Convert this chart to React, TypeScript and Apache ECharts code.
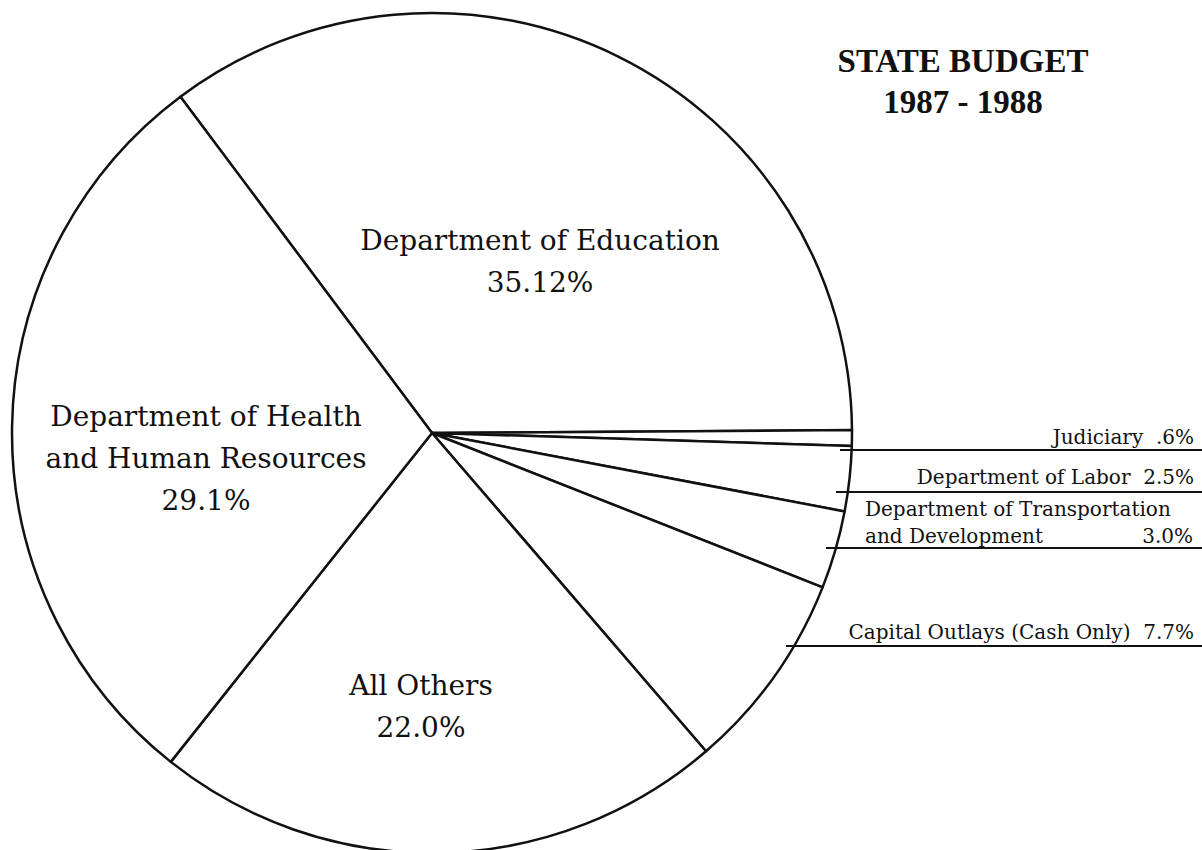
import React, { useEffect, useRef } from "react";
import * as echarts from "echarts";

const titleLines = ["STATE BUDGET", "1987 - 1988"];
const sliceNames = [
  "Department of Education",
  "Judiciary",
  "Department of Labor",
  "Department of Transportation and Development",
  "Capital Outlays (Cash Only)",
  "All Others",
  "Department of Health and Human Resources",
];
const sliceValues = [35.12, 0.6, 2.5, 3.0, 7.7, 22.0, 29.1];
const sliceLabels = ["35.12%", ".6%", "2.5%", "3.0%", "7.7%", "22.0%", "29.1%"];

// label anchor positions (layout only)
const labelPos: Record<number, { x: number; y: number; align: string; vAlign: string }> = {
  0: { x: 540, y: 261, align: "center", vAlign: "middle" },
  1: { x: 1194, y: 450, align: "right", vAlign: "bottom" },
  2: { x: 1194, y: 490, align: "right", vAlign: "bottom" },
  3: { x: 865, y: 549, align: "left", vAlign: "bottom" },
  4: { x: 1194, y: 645, align: "right", vAlign: "bottom" },
  5: { x: 421, y: 706, align: "center", vAlign: "middle" },
  6: { x: 206, y: 458, align: "center", vAlign: "middle" },
};
const ruleY = [450, 492, 548, 646];
const ruleX = [840, 836, 826, 786];

const SERIF = "'DejaVu Serif', serif";
const TITLE_FONT = "'Liberation Serif', serif";

export default function App() {
  const ref = useRef<HTMLDivElement>(null);
  useEffect(() => {
    document.body.style.margin = "0";
    const chart = echarts.init(ref.current!, null, { renderer: "svg" });
    const big = new Set([0, 5, 6]);
    const small = { fontSize: 20, lineHeight: 27, fontFamily: SERIF, color: "#111" };
    const data = sliceValues.map((v, i) => {
      let formatter: string;
      if (i === 0) formatter = `${sliceNames[0]}\n${sliceLabels[0]}`;
      else if (i === 5) formatter = `${sliceNames[5]}\n${sliceLabels[5]}`;
      else if (i === 6) formatter = `Department of Health\nand Human Resources\n${sliceLabels[6]}`;
      else if (i === 3) formatter = `{s|Department of Transportation}\n{a|and Development}{b|${sliceLabels[3]}}`;
      else formatter = `{s|${sliceNames[i]}  ${sliceLabels[i]}}`;
      return {
        name: sliceNames[i],
        value: v,
        label: big.has(i)
          ? { show: true, position: "inside", formatter, fontSize: 28, lineHeight: 42, color: "#111", fontFamily: SERIF, align: "center" }
          : {
              show: true,
              position: "outside",
              formatter,
              color: "#111",
              fontFamily: SERIF,
              rich: {
                s: { ...small },
                a: { ...small, width: 250 },
                b: { ...small, width: 78, align: "right" },
              },
            },
        labelLine: { show: false },
      };
    });
    chart.setOption({
      animation: false,
      backgroundColor: "#fff",
      graphic: [
        {
          type: "text",
          x: 963,
          y: 40,
          style: {
            text: titleLines.join("\n"),
            font: `bold 33px ${TITLE_FONT}`,
            fill: "#111",
            align: "center",
            verticalAlign: "top",
            lineHeight: 41,
          },
        },
        ...ruleY.map((y, i) => ({
          type: "line",
          shape: { x1: ruleX[i], y1: y, x2: 1202, y2: y },
          style: { stroke: "#111", lineWidth: 2 },
          z: 10,
        })),
      ],
      series: [
        {
          type: "pie",
          center: [432, 433],
          radius: [0, 420],
          startAngle: 126.8,
          clockwise: true,
          avoidLabelOverlap: false,
          silent: true,
          itemStyle: { color: "#fff", borderColor: "#111", borderWidth: 2.5 },
          data,
          labelLayout: (p: any) => {
            const lp = labelPos[p.dataIndex];
            return { x: lp.x, y: lp.y, align: lp.align, verticalAlign: lp.vAlign };
          },
        },
      ],
    });
    return () => chart.dispose();
  }, []);
  return <div ref={ref} style={{ position: "fixed", left: 0, top: 0, width: 1202, height: 850 }} />;
}
